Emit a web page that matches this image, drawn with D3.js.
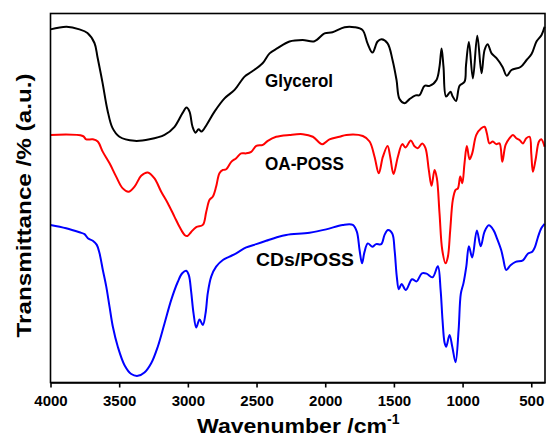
<!DOCTYPE html>
<html>
<head>
<meta charset="utf-8">
<script src="https://cdn.jsdelivr.net/npm/d3@7"></script>
<style>
  html, body { margin: 0; padding: 0; background: #fff; }
  svg { display: block; }
  text { font-family: Arial, "Liberation Sans", Helvetica, sans-serif; font-weight: bold; fill: #000; }
</style>
</head>
<body>
<svg id="chart" width="547" height="438"></svg>
<script>
// FTIR spectra: [wavenumber (cm-1), transmittance (a.u.)]
const glycerol = [
  [4000,95.7],[3883,96.4],[3789,95.7],[3731,94.7],[3680,92.0],[3658,88.2],[3621,81.2],
  [3585,73.8],[3549,69.0],[3498,66.6],[3388,65.5],[3279,65.9],[3170,67.1],[3097,69.3],
  [3039,73.0],[3010,74.5],[2988,73.4],[2966,69.3],[2944,67.7],[2922,68.6],[2901,68.0],
  [2864,69.8],[2806,73.4],[2733,77.0],[2660,79.3],[2587,82.9],[2536,84.2],[2456,86.5],
  [2405,89.2],[2347,90.6],[2260,92.4],[2165,92.8],[2078,92.5],[2005,94.6],[1947,94.9],
  [1859,96.3],[1787,96.3],[1728,95.5],[1692,91.9],[1656,89.4],[1619,92.4],[1590,93.0],
  [1546,91.9],[1510,87.4],[1481,82.0],[1459,76.8],[1423,75.7],[1386,76.8],[1342,77.8],
  [1313,77.9],[1277,80.4],[1240,80.4],[1190,82.0],[1168,85.6],[1153,90.5],[1139,85.6],
  [1120,77.5],[1088,78.8],[1073,77.6],[1048,76.3],[1022,80.4],[986,81.5],[975,86.0],
  [954,92.3],[925,82.4],[893,94.0],[862,83.8],[840,90.1],[818,91.7],[789,89.2],
  [753,87.9],[709,85.5],[678,83.1],[644,84.7],[578,85.5],[534,87.4],[498,89.0],
  [462,92.4],[425,94.2],[403,96.4]
];

const oaPoss = [
  [4000,67.1],[3765,66.8],[3740,65.9],[3692,65.9],[3656,65.3],[3619,62.5],[3570,59.4],
  [3522,55.8],[3474,52.6],[3432,51.7],[3388,53.1],[3340,56.0],[3292,56.9],[3243,55.3],
  [3194,51.7],[3146,48.6],[3097,44.9],[3061,42.2],[3024,40.0],[3003,39.7],[2976,40.8],
  [2939,42.1],[2891,42.7],[2866,46.3],[2842,49.5],[2818,50.4],[2794,53.1],[2770,56.7],
  [2745,57.6],[2721,57.8],[2684,59.8],[2648,60.8],[2612,62.1],[2575,62.1],[2539,62.5],
  [2502,64.1],[2454,64.4],[2418,65.5],[2357,66.6],[2260,67.1],[2163,67.3],[2090,66.6],
  [2022,64.6],[1969,65.9],[1896,66.6],[1847,67.1],[1726,66.8],[1677,65.3],[1641,61.2],
  [1610,56.7],[1580,61.2],[1546,64.1],[1527,61.2],[1503,56.5],[1471,61.2],[1439,64.6],
  [1415,63.7],[1377,65.6],[1350,64.0],[1326,63.5],[1294,64.8],[1270,63.5],[1246,57.6],
  [1226,53.3],[1204,57.6],[1187,55.3],[1168,45.9],[1148,35.9],[1124,32.3],[1107,34.1],
  [1090,41.3],[1071,49.5],[1051,52.2],[1034,52.6],[1017,55.8],[1002,54.0],[986,59.4],
  [969,64.1],[949,60.5],[930,62.1],[900,67.1],[864,68.9],[840,69.3],[823,67.5],
  [804,64.8],[780,65.3],[755,64.6],[731,64.8],[711,59.8],[687,64.4],[658,66.2],
  [634,67.1],[609,66.2],[585,65.7],[561,64.8],[536,66.2],[512,66.6],[500,62.1],
  [488,57.1],[469,60.3],[444,65.3],[427,65.9],[403,63.9]
];

const cdsPoss = [
  [4000,42.7],[3886,41.8],[3789,40.7],[3752,40.2],[3728,39.1],[3692,38.4],[3663,37.3],
  [3643,35.0],[3619,30.5],[3594,26.0],[3570,20.5],[3546,15.1],[3510,9.7],[3461,4.7],
  [3412,2.3],[3364,1.8],[3316,2.7],[3267,5.2],[3219,9.7],[3170,16.0],[3121,22.4],
  [3073,27.3],[3041,29.6],[3012,30.3],[2993,29.1],[2976,24.6],[2959,18.8],[2939,14.9],
  [2915,17.1],[2891,15.6],[2871,18.8],[2855,24.2],[2830,28.7],[2794,31.4],[2745,33.2],
  [2697,34.1],[2648,35.0],[2575,36.6],[2502,37.5],[2430,38.4],[2357,39.3],[2284,40.0],
  [2114,40.6],[1993,41.5],[1872,42.7],[1799,42.7],[1770,40.9],[1750,35.9],[1732,32.3],
  [1714,35.4],[1690,37.7],[1658,36.8],[1629,37.5],[1592,37.5],[1568,40.0],[1543,41.3],
  [1512,40.4],[1495,35.9],[1479,28.7],[1464,25.3],[1444,26.7],[1413,25.1],[1368,28.0],
  [1335,27.4],[1296,29.6],[1262,29.5],[1219,28.5],[1180,31.5],[1160,25.1],[1146,16.9],
  [1131,10.8],[1119,9.7],[1095,12.9],[1075,9.7],[1051,5.5],[1029,14.2],[1013,24.0],
  [993,27.0],[973,31.4],[954,36.9],[930,33.9],[896,41.2],[868,36.9],[840,40.9],
  [809,42.6],[775,41.3],[749,39.0],[719,35.9],[705,33.7],[682,30.5],[651,31.8],
  [614,32.7],[561,33.1],[525,34.9],[491,35.5],[472,36.8],[452,39.3],[427,41.8],[403,43.0]
];

const seriesNames = ["Glycerol", "OA-POSS", "CDs/POSS"];
const seriesColors = ["#000000", "#ff0000", "#0000ff"];
const xTicks = [4000, 3500, 3000, 2500, 2000, 1500, 1000, 500];

const svg = d3.select("#chart");
const plot = { left: 50.5, right: 545, top: 13.5, bottom: 382.5 };

const x = d3.scaleLinear().domain([4000, 400]).range([plot.left, plot.right]);
const y = d3.scaleLinear().domain([0, 100]).range([plot.bottom, plot.top]);

const line = d3.line()
  .x(d => x(d[0]))
  .y(d => y(d[1]))
  .curve(d3.curveCatmullRom.alpha(0.5));

const data = [glycerol, oaPoss, cdsPoss];

svg.append("g")
  .selectAll("path")
  .data(data)
  .join("path")
  .attr("d", line)
  .attr("fill", "none")
  .attr("stroke", (d, i) => seriesColors[i])
  .attr("stroke-width", 2)
  .attr("stroke-linejoin", "round");

// frame
svg.append("rect")
  .attr("x", plot.left).attr("y", plot.top)
  .attr("width", plot.right - plot.left)
  .attr("height", plot.bottom - plot.top)
  .attr("fill", "none").attr("stroke", "#000").attr("stroke-width", 1.6);

// bottom axis
const xAxis = svg.append("g")
  .attr("transform", `translate(0,${plot.bottom})`)
  .call(d3.axisBottom(x).tickValues(xTicks).tickFormat(d3.format("d"))
    .tickSize(5).tickSizeOuter(0).tickPadding(8));
xAxis.select(".domain").attr("stroke-width", 1.6);
xAxis.selectAll(".tick line").attr("stroke-width", 1.6);
xAxis.selectAll(".tick text")
  .attr("font-size", 15)
  .style("font-family", "Arial, 'Liberation Sans', sans-serif")
  .style("font-weight", "bold");

// series labels, placed in data coordinates beside each trace
const labelPos = [
  { wn: 2191, v: 80.1, len: 68 },
  { wn: 2151, v: 57.6, len: 79 },
  { wn: 2147, v: 31.6, len: 98 }
];
svg.append("g")
  .selectAll("text")
  .data(seriesNames)
  .join("text")
  .attr("x", (d, i) => x(labelPos[i].wn))
  .attr("y", (d, i) => y(labelPos[i].v))
  .attr("text-anchor", "middle")
  .attr("font-size", 18)
  .attr("textLength", (d, i) => labelPos[i].len)
  .attr("lengthAdjust", "spacingAndGlyphs")
  .text(d => d);

// axis titles
const xTitle = svg.append("text")
  .attr("x", 197)
  .attr("y", 433)
  .attr("font-size", 21);
xTitle.append("tspan")
  .attr("textLength", 190).attr("lengthAdjust", "spacingAndGlyphs")
  .text("Wavenumber /cm");
xTitle.append("tspan").attr("dy", -9).attr("font-size", 14).text("-1");

svg.append("text")
  .attr("transform", "translate(31,205.5) rotate(-90)")
  .attr("text-anchor", "middle")
  .attr("font-size", 21)
  .attr("textLength", 264).attr("lengthAdjust", "spacingAndGlyphs")
  .text("Transmittance /% (a.u.)");
</script>
</body>
</html>
